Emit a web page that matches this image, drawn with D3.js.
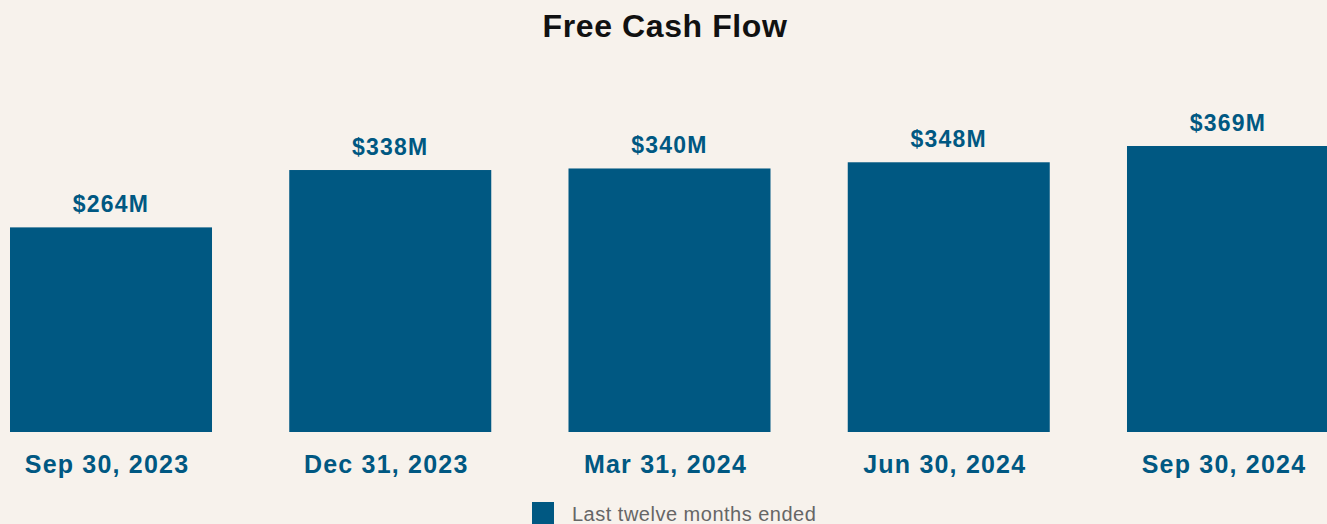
<!DOCTYPE html>
<html>
<head>
<meta charset="utf-8">
<script src="https://cdn.jsdelivr.net/npm/d3@7"></script>
<style>
  body { margin: 0; background: #f7f2ec; }
  svg { display: block; }
</style>
</head>
<body>
<svg id="chart"></svg>
<script>
"use strict";

var categories = ['Sep 30, 2023', 'Dec 31, 2023', 'Mar 31, 2024', 'Jun 30, 2024', 'Sep 30, 2024'];
var values = [264, 338, 340, 348, 369];
var valueLabels = ['$264M', '$338M', '$340M', '$348M', '$369M'];
var legendLabel = 'Last twelve months ended';

var width = 1327, height = 524;
var barColor = '#005882';
var font = '"Liberation Sans", Arial, sans-serif';

var svg = d3.select('#chart')
    .attr('width', width)
    .attr('height', height);

svg.append('rect')
    .attr('width', width)
    .attr('height', height)
    .attr('fill', '#f7f2ec');

svg.append('text')
    .attr('x', 665)
    .attr('y', 37)
    .attr('text-anchor', 'middle')
    .attr('font-family', font)
    .attr('font-weight', 'bold')
    .attr('font-size', 32)
    .attr('letter-spacing', 0.6)
    .attr('fill', '#111')
    .text('Free Cash Flow');

var x = d3.scaleBand()
    .domain(categories)
    .range([10, 1329])
    .paddingInner(0.2766)
    .paddingOuter(0);

var y = d3.scaleLinear()
    .domain([0, 369])
    .range([432, 146]);

var data = categories.map((c, i) => ({ cat: c, value: values[i], label: valueLabels[i] }));

svg.selectAll('.bar')
    .data(data)
    .enter()
    .append('rect')
        .attr('class', 'bar')
        .attr('x', d => x(d.cat))
        .attr('y', d => y(d.value))
        .attr('width', x.bandwidth())
        .attr('height', d => y(0) - y(d.value))
        .attr('fill', barColor);

svg.selectAll('.value')
    .data(data)
    .enter()
    .append('text')
        .attr('class', 'value')
        .attr('x', d => x(d.cat) + x.bandwidth() / 2)
        .attr('y', d => y(d.value) - 15)
        .attr('text-anchor', 'middle')
        .attr('font-family', font)
        .attr('font-weight', 'bold')
        .attr('font-size', 23)
        .attr('letter-spacing', 1.2)
        .attr('fill', barColor)
        .text(d => d.label);

// category labels under bars
var xAxis = d3.axisBottom(x).tickSize(0).tickPadding(0);
var axisG = svg.append('g')
    .attr('transform', 'translate(0,' + y(0) + ')')
    .call(xAxis);
axisG.select('.domain').remove();
axisG.selectAll('text')
    .attr('dy', null)
    .attr('dx', -4)
    .attr('y', 41)
    .attr('font-family', font)
    .attr('font-weight', 'bold')
    .attr('font-size', 25)
    .attr('letter-spacing', 1.2)
    .attr('fill', barColor);

var legend = svg.append('g').attr('transform', 'translate(532,502)');
legend.append('rect')
    .attr('width', 22)
    .attr('height', 22)
    .attr('fill', barColor);
legend.append('text')
    .attr('x', 40)
    .attr('y', 19)
    .attr('font-family', font)
    .attr('font-size', 20)
    .attr('letter-spacing', 0.5)
    .attr('fill', '#666')
    .text(legendLabel);
</script>
</body>
</html>
